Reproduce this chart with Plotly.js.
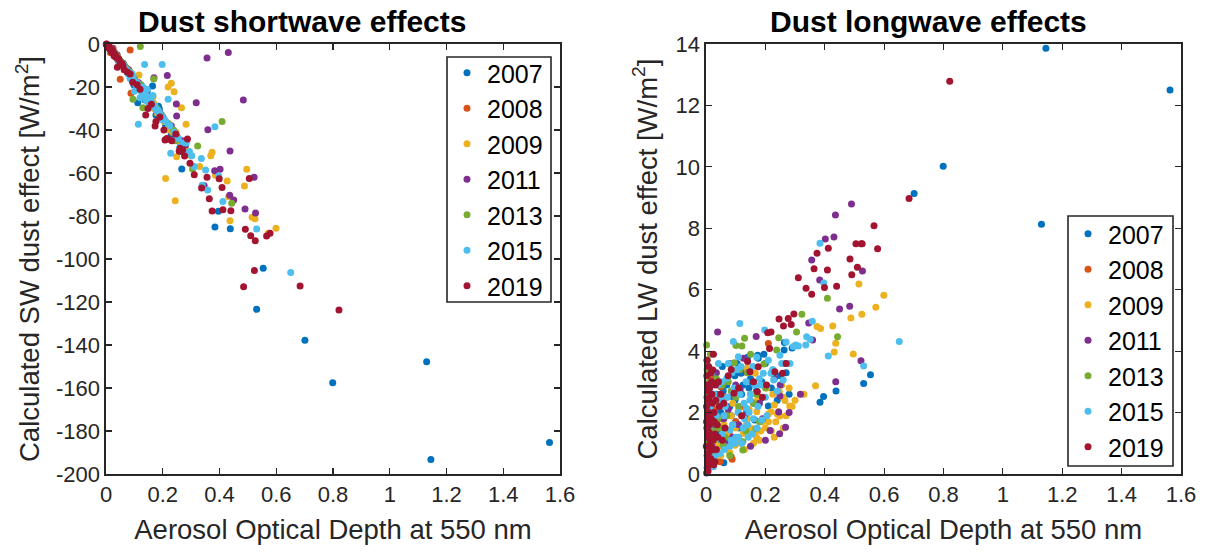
<!DOCTYPE html>
<html>
<head>
<meta charset="utf-8">
<script src="https://cdn.plot.ly/plotly-3.0.1.min.js"></script>
<style>
html,body{margin:0;padding:0;background:#fff;}
#chart{width:1206px;height:552px;}
</style>
</head>
<body>
<div id="chart"></div>
<script>
// ---- data ----
const years = ['2007', '2008', '2009', '2011', '2013', '2015', '2019'];

const aod2007 = [1.145,1.563,1.13,0.799,0.701,0.531,0.554,0.438,0.396,0.384,0.267,0.174,0.176,0.264,0.263,0.129,0.118,0.097,0.089,0.098,0.137,0.21,0.185,0.164,0.112,0.188,0.06,0.041,0.02,0.03,0.05,0.075,0.145,0.23,0.011,0.07,
  0.015,0.025,0.035,0.045,0.055,0.065,0.08,0.1,0.12,0.15,0.16,0.2,0.22,0.25,0.28,
  0.033,0.058,0.085,0.105,0.125,0.14,0.155,0.17,0.195,0.24,0.27,0.29];
const sw2007  = [-193.2,-185.4,-147.8,-157.5,-137.8,-123.4,-104.3,-85.9,-77.8,-85.1,-58.1,-30,-33,-50,-47,-24,-20,-17,-15,-19,-26,-38,-29,-19.5,-27.3,-30.2,-9,-6,-3,-5,-8,-13,-22,-42,-1.5,-11,
  -2,-4,-6,-8,-10,-11,-14,-18,-21,-26,-28,-35,-39,-44,-49,
  -5,-9,-15,-18,-22,-24,-27,-29,-33,-42,-46,-51];
const lw2007  = [13.86,12.5,8.13,10.02,9.13,2.95,3.23,2.7,2.52,2.34,3.6,3.87,3.77,4.28,4.04,3.33,3.28,3.2,2.52,2.41,2.04,2.21,2.46,1.76,1.5,3.0,0.37,0.63,1.2,1.6,2.0,1.1,2.8,3.3,0.9,2.9,
  2.2,3.1,2.6,1.3,3.5,1.9,2.2,1.7,2.6,3.1,2.3,3.6,2.8,3.2,2.6,
  1.0,2.7,1.9,3.6,2.9,3.8,3.0,2.7,3.9,2.4,3.3,4.1];

const aod2008 = [0.085,0.05,0.088,0.21,0.047,0.033,0.078,0.02,0.06,0.01,0.015,0.04,0.12,0.025,
  0.005,0.008,0.03,0.045,0.055,0.07,0.1,0.015];
const sw2008  = [-2.8,-16.4,-22.9,-36,-9,-6,-12,-3,-10,-1,-4,-7,-20,-2,
  -0.5,-1,-5,-8,-9,-12,-17,-2];
const lw2008  = [0.56,2.84,0.48,4.25,0.4,0.94,1.3,1.9,1.1,2.4,2.6,1.5,2.2,0.7,
  1.6,0.9,2.1,1.8,0.9,2.5,1.7,3.1];

const aod2009 = [0.599,0.572,0.525,0.515,0.496,0.488,0.437,0.432,0.427,0.386,0.374,0.369,0.266,0.282,0.249,0.247,0.244,0.24,0.23,0.219,0.21,0.171,0.166,0.165,0.159,0.152,0.138,0.126,0.116,0.103,0.098,0.06,0.04,0.08,0.02,0.13,0.18,0.19,0.11,
  0.14,0.15,0.17,0.2,0.205,0.22,0.225,0.235,0.255,0.27,0.29,0.12,0.1,0.09,0.07,0.05,0.03,0.16,0.18,0.26,
  0.085,0.105,0.135,0.145,0.175,0.185,0.21,0.23,0.26,0.28,0.3,0.33];
const sw2009  = [-85.7,-88,-81.3,-80.6,-58.3,-66,-82.2,-71,-63.7,-61,-50.4,-52,-29.6,-37.3,-52.4,-41,-72.9,-22.2,-18.3,-20,-62.5,-28,-24.5,-27,-26,-25,-22,-20,-14.4,-17,-16,-10,-6,-13,-3,-23,-31,-33,-18,
  -24,-26,-30,-34,-36,-38,-40,-41,-44,-47,-50,-21,-17,-15,-12,-8,-5,-27,-32,-45,
  -14,-18,-23,-25,-30,-32,-36,-39,-45,-48,-52,-57];
const lw2009  = [5.82,5.43,5.2,6.19,3.91,5.08,4.26,3.97,4.82,4.74,4.8,2.87,2.39,2.21,1.89,2.68,2.03,1.95,2.25,2.03,1.95,2.03,3.28,1.38,2.35,1.49,3.44,1.32,1.0,1.05,0.94,1.6,0.9,0.7,1.2,0.8,1.1,1.7,2.1,
  1.8,2.6,1.2,1.5,2.8,1.4,2.6,1.7,2.9,1.9,2.2,1.9,1.5,2.3,1.3,0.6,1.0,1.0,2.5,1.5,
  1.9,2.7,1.6,2.1,2.4,1.4,1.7,1.2,2.5,2.8,2.4,2.6];

const aod2011 = [0.527,0.522,0.49,0.484,0.45,0.437,0.436,0.431,0.402,0.383,0.359,0.356,0.346,0.318,0.268,0.249,0.248,0.245,0.216,0.169,0.126,0.115,0.039,0.002,0.06,0.09,0.02,0.01,0.15,0.08,
  0.005,0.03,0.05,0.07,0.1,0.13,0.18,0.2,0.23,0.28,
  0.035,0.075,0.11,0.14,0.19,0.25];
const sw2011  = [-78.6,-62,-76.7,-26,-72.6,-49.8,-70.4,-4,-58.3,-58.9,-39.9,-6.5,-65.9,-27.3,-45,-33.5,-27.9,-42,-14.7,-15.7,-20,-18,-5,0,-9,-14,-2,-1,-25,-12,
  -0.5,-4,-8,-11,-17,-22,-31,-34,-38,-47,
  -5,-12,-18,-23,-32,-43];
const lw2011  = [6.61,3.69,8.79,5.46,5.37,3.0,8.43,7.72,7.65,6.32,4.36,6.97,4.92,2.6,1.52,2.54,1.31,2.02,1.42,4.48,3.77,2.74,4.62,0.03,1.8,1.2,0.9,2.2,0.9,3.6,
  0.5,1.4,2.6,1.0,2.9,1.9,2.3,1.1,3.1,2.0,
  3.3,2.1,1.6,3.3,1.8,2.9];

const aod2013 = [0.443,0.409,0.323,0.305,0.245,0.238,0.195,0.168,0.13,0.121,0.101,0.095,0.124,0.124,0.058,0.004,0.006,0.003,0.008,0.005,0.007,0.004,0.009,0.012,0.015,0.02,0.03,0.045,0.07,0.085,0.16,0.18,
  0.002,0.003,0.006,0.01,0.011,0.013,0.018,0.025,0.04,0.055,0.065,0.09,0.11,0.14,0.2,
  0.015,0.022,0.035,0.05,0.075,0.08,0.1,0.115,0.135,0.15,0.17,0.22];
const sw2013  = [-74.1,-36.1,-47.4,-58.1,-45,-40,-33,-16.3,-29.6,-1.2,-18,-25.7,-21,-19,-9,-0.5,-1,-0.3,-1.2,-0.8,-1,-0.6,-1.5,-2,-2.5,-3,-5,-7,-11,-13,-28,-30,
  -0.2,-0.4,-0.8,-1.4,-1.6,-1.8,-2.8,-4,-6,-9,-10,-15,-19,-24,-34,
  -2,-3,-5,-8,-12,-13,-16,-19,-23,-25,-29,-37];
const lw2013  = [4.47,5.72,5.2,4.62,4.44,4.04,3.58,1.47,4.42,4.17,4.18,3.62,1.05,0.78,0.94,3.4,2.9,2.5,2.1,1.7,1.3,0.9,0.5,3.0,1.9,2.6,1.4,2.3,1.9,2.7,2.3,1.7,
  4.2,3.7,1.1,2.7,1.5,0.7,3.3,1.1,1.8,2.9,1.2,1.6,2.2,3.3,2.8,
  3.9,2.0,3.1,1.5,3.0,0.6,2.5,3.4,1.4,3.9,2.6,3.3];

const aod2015 = [0.651,0.531,0.412,0.397,0.384,0.358,0.351,0.339,0.336,0.311,0.302,0.294,0.283,0.26,0.249,0.228,0.219,0.198,0.193,0.188,0.171,0.148,0.136,0.114,0.109,0.092,0.092,0.081,0.07,0.047,0.03,0.025,0.1,0.12,0.14,0.155,0.13,0.085,0.06,0.015,0.01,0.05,0.165,0.145,
  0.02,0.035,0.04,0.055,0.065,0.075,0.08,0.09,0.095,0.105,0.11,0.115,0.125,0.135,0.15,0.16,0.175,0.18,0.2,0.21,0.24,0.27,0.005,0.008,0.012,
  0.018,0.028,0.042,0.052,0.062,0.072,0.088,0.098,0.108,0.118,0.128,0.142,0.158,0.172,0.185,0.205,0.225,0.255];
const sw2015  = [-106.3,-86,-73.3,-61.4,-38.5,-67.9,-58.6,-65.7,-53.2,-57,-52,-50,-46,-48,-44,-50.8,-25.7,-9.5,-35,-32,-29,-27,-9.5,-37.3,-20,-17,-14,-13,-12,-8,-5,-4,-22,-25,-26,-28,-20,-16,-10,-3,-1,-9,-24,-21,
  -3,-6,-7,-9,-11,-13,-14,-16,-15,-19,-18,-20,-22,-23,-26,-27,-30,-31,-34,-36,-41,-46,-0.5,-1,-2,
  -3,-4,-7,-9,-10,-12,-15,-17,-18,-20,-22,-24,-27,-29,-31,-35,-38,-44];
const lw2015  = [4.31,3.52,3.84,6.22,7.51,4.97,4.39,4.47,4.2,4.17,4.2,4.15,3.6,3.06,3.87,3.06,3.28,4.69,3.28,1.76,3.8,2.41,2.14,4.9,3.82,4.31,2.63,1.43,3.12,0.67,0.56,0.24,1.2,1.0,1.6,1.3,1.8,1.1,1.9,2.2,1.5,2.4,2.9,2.0,
  3.3,1.9,2.9,1.3,2.2,3.6,0.9,1.6,2.8,3.4,1.2,2.6,1.5,3.0,2.6,1.8,2.2,3.1,2.5,3.7,2.7,4.3,0.4,1.2,2.8,
  1.7,2.6,3.6,3.0,0.8,2.5,3.3,1.0,2.0,3.5,2.3,1.2,3.5,1.5,2.9,1.9,3.4,3.6];

const aod2019 = [0.821,0.684,0.578,0.566,0.526,0.523,0.51,0.505,0.491,0.485,0.44,0.412,0.409,0.399,0.374,0.364,0.356,0.337,0.311,0.296,0.287,0.277,0.27,0.261,0.258,0.246,0.232,0.219,0.214,0.208,0.204,0.176,0.173,0.148,0.14,0.094,0.064,0.04,0.025,0.023,0.005,0.008,0.01,0.012,0.006,0.015,0.004,0.018,0.02,0.03,0.035,0.045,0.003,0.009,0.014,0.022,0.028,
  0.002,0.003,0.004,0.005,0.006,0.007,0.008,0.009,0.01,0.011,0.013,0.016,0.019,0.024,0.027,0.032,0.038,0.05,0.06,0.075,0.11,0.12,0.16,0.19,0.03,
  0.001,0.002,0.004,0.007,0.012,0.017,0.021,0.026,0.033,0.042,0.055,0.085];
const sw2019  = [-123.7,-112.6,-88,-89.3,-91.5,-105.4,-89.2,-62.5,-86.2,-112.9,-77.5,-77.1,-66.8,-62.7,-77.7,-72,-62,-67,-60.8,-55.5,-44.2,-52.1,-49.3,-48.5,-49.9,-41.9,-45,-44.3,-43.9,-44.7,-40,-36,-38.1,-30,-33,-17.8,-12,-10.8,-4,-3,-0.5,-1,-1.5,-2,-0.8,-2.5,-0.3,-3,-3.5,-5,-6,-7,-0.2,-1.2,-2,-4,-5.5,
  -0.1,-0.3,-0.4,-0.6,-0.7,-0.9,-1.1,-1.3,-1.4,-1.6,-1.9,-2.4,-2.9,-3.8,-4.2,-5.2,-6.3,-8.5,-10,-13,-19,-21,-28,-34,-4.8,
  -0.1,-0.2,-0.5,-1,-1.8,-2.6,-3.3,-4.1,-5.4,-6.8,-9,-14];
const lw2019  = [12.79,8.97,7.33,8.08,7.5,7.5,6.73,7.5,6.49,7.0,6.11,7.35,6.64,6.07,7.19,6.68,5.85,6.05,6.39,5.21,4.87,5.06,3.6,4.82,3.28,5.05,3.33,4.62,4.09,4.6,2.9,3.49,2.68,3.33,3.66,2.63,1.5,1.2,3.9,3.39,2.9,2.4,2.0,1.6,1.2,0.9,0.6,1.8,2.6,1.3,0.8,2.2,1.5,0.3,1.1,2.3,1.7,
  2.2,3.2,0.2,1.9,0.4,2.7,1.4,3.5,0.7,2.5,1.3,0.5,3.0,1.1,2.0,2.9,1.6,2.6,2.3,3.2,2.8,1.9,3.0,2.5,0.4,
  0.9,1.7,3.7,0.1,2.8,3.3,0.8,0.3,2.4,3.0,1.1,3.4];

const xTicks = [0, 0.2, 0.4, 0.6, 0.8, 1, 1.2, 1.4, 1.6];
const xTickLabels = ['0', '0.2', '0.4', '0.6', '0.8', '1', '1.2', '1.4', '1.6'];
const swTicks = [-200, -180, -160, -140, -120, -100, -80, -60, -40, -20, 0];
const swTickLabels = ['-200', '-180', '-160', '-140', '-120', '-100', '-80', '-60', '-40', '-20', '0'];
const lwTicks = [0, 2, 4, 6, 8, 10, 12, 14];
const lwTickLabels = ['0', '2', '4', '6', '8', '10', '12', '14'];

// ---- styling ----
const colors = ['#0072BD', '#D95319', '#EDB120', '#7E2F8E', '#77AC30', '#4DBEEE', '#A2142F'];
const aodSets = [aod2007, aod2008, aod2009, aod2011, aod2013, aod2015, aod2019];
const swSets = [sw2007, sw2008, sw2009, sw2011, sw2013, sw2015, sw2019];
const lwSets = [lw2007, lw2008, lw2009, lw2011, lw2013, lw2015, lw2019];

const FONT = 'Liberation Sans, Arial, Helvetica, sans-serif';
const traces = [];
years.forEach((yr, i) => {
  traces.push({
    type: 'scatter', mode: 'markers', name: yr,
    x: aodSets[i], y: swSets[i], xaxis: 'x', yaxis: 'y',
    marker: {color: colors[i], size: 7},
    cliponaxis: false, legend: 'legend', hoverinfo: 'x+y'
  });
});
years.forEach((yr, i) => {
  traces.push({
    type: 'scatter', mode: 'markers', name: yr,
    x: aodSets[i], y: lwSets[i], xaxis: 'x2', yaxis: 'y2',
    marker: {color: colors[i], size: 7},
    cliponaxis: false, legend: 'legend2', hoverinfo: 'x+y'
  });
});

const W = 1206, H = 552;
const axCommon = {
  showline: true, linecolor: '#262626', linewidth: 1.6, mirror: 'allticks',
  ticks: 'inside', ticklen: 6, tickwidth: 1.2, tickcolor: '#262626',
  showgrid: false, zeroline: false,
  tickfont: {family: FONT, size: 22, color: '#262626'}
};
const yDom = [(H - 474) / H, (H - 44) / H];
const titleFont = {family: FONT, size: 27.5, color: '#262626'};
const px = (x) => x / W;
const py = (y) => 1 - y / H;

const layout = {
  width: W, height: H,
  margin: {l: 0, r: 0, t: 0, b: 0},
  paper_bgcolor: '#ffffff', plot_bgcolor: '#ffffff',
  font: {family: FONT, color: '#262626'},
  showlegend: true,
  xaxis: Object.assign({}, axCommon, {
    domain: [px(106), px(560)], range: [0, 1.6], anchor: 'y',
    tickvals: xTicks, ticktext: xTickLabels,
    title: {text: 'Aerosol Optical Depth at 550 nm', font: titleFont, standoff: 14}
  }),
  yaxis: Object.assign({}, axCommon, {
    domain: yDom, range: [-200, 0], anchor: 'x',
    tickvals: swTicks, ticktext: swTickLabels,
    title: {text: 'Calculated SW dust effect [W/m<sup>2</sup>]', font: titleFont, standoff: 8}
  }),
  xaxis2: Object.assign({}, axCommon, {
    domain: [px(706), px(1181)], range: [0, 1.6], anchor: 'y2',
    tickvals: xTicks, ticktext: xTickLabels,
    title: {text: 'Aerosol Optical Depth at 550 nm', font: titleFont, standoff: 14}
  }),
  yaxis2: Object.assign({}, axCommon, {
    domain: yDom, range: [0, 14], anchor: 'x2',
    tickvals: lwTicks, ticktext: lwTickLabels,
    title: {text: 'Calculated LW dust effect [W/m<sup>2</sup>]', font: titleFont, standoff: 10}
  }),
  legend: {
    x: px(447), y: py(50), xanchor: 'left', yanchor: 'top',
    bgcolor: 'rgba(0,0,0,0)', borderwidth: 0,
    font: {family: FONT, size: 25, color: '#000000'}, tracegroupgap: 0
  },
  legend2: {
    x: px(1068), y: py(211), xanchor: 'left', yanchor: 'top',
    bgcolor: 'rgba(0,0,0,0)', borderwidth: 0,
    font: {family: FONT, size: 25, color: '#000000'}, tracegroupgap: 0
  },
  shapes: [
    {type: 'rect', xref: 'paper', yref: 'paper', layer: 'above',
     x0: px(447), x1: px(551), y0: py(302), y1: py(57),
     fillcolor: '#ffffff', line: {color: '#262626', width: 1.6}},
    {type: 'rect', xref: 'paper', yref: 'paper', layer: 'above',
     x0: px(1068), x1: px(1173), y0: py(466), y1: py(216),
     fillcolor: '#ffffff', line: {color: '#262626', width: 1.6}}
  ],
  annotations: [
    {text: '<b>Dust shortwave effects</b>', xref: 'paper', yref: 'paper',
     x: px(302), y: py(21), xanchor: 'center', yanchor: 'middle', showarrow: false,
     font: {family: FONT, size: 30, color: '#000000'}},
    {text: '<b>Dust longwave effects</b>', xref: 'paper', yref: 'paper',
     x: px(928), y: py(21), xanchor: 'center', yanchor: 'middle', showarrow: false,
     font: {family: FONT, size: 30, color: '#000000'}}
  ]
};

Plotly.newPlot('chart', traces, layout, {displayModeBar: false, staticPlot: true});
</script>
</body>
</html>
